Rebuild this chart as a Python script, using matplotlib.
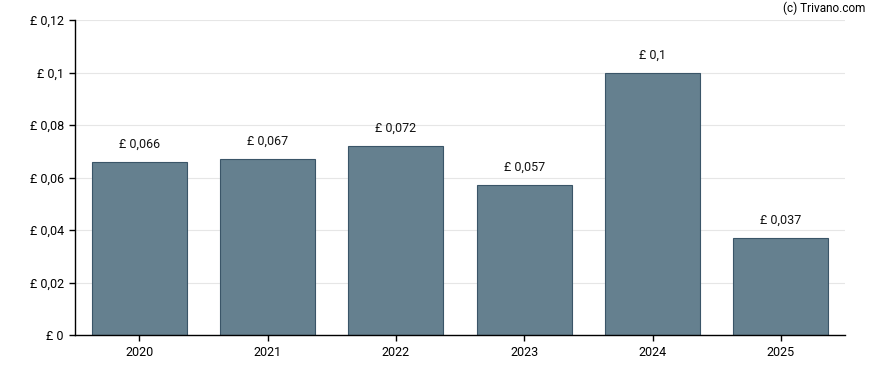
import matplotlib
matplotlib.use("Agg")
import matplotlib.pyplot as plt

years = ["2020", "2021", "2022", "2023", "2024", "2025"]
values = [0.066, 0.067, 0.072, 0.057, 0.1, 0.037]
labels = ["£ 0,066", "£ 0,067", "£ 0,072", "£ 0,057", "£ 0,1", "£ 0,037"]
yticks = [0, 0.02, 0.04, 0.06, 0.08, 0.1, 0.12]
ytick_labels = ["£ 0", "£ 0,02", "£ 0,04", "£ 0,06", "£ 0,08", "£ 0,1", "£ 0,12"]

plt.rcParams["font.family"] = ["Roboto", "DejaVu Sans"]

fig = plt.figure(figsize=(8.88, 3.7), dpi=100)
ax = fig.add_axes([75 / 888, 35 / 370, 770 / 888, 315 / 370])

x = list(range(len(years)))
ax.bar(x, values, width=0.74, color="#65808f", edgecolor="#3a5568", linewidth=0.8, zorder=2)

for xi, v, lab in zip(x, values, labels):
    ax.annotate(lab, (xi, v), xytext=(0, 8), textcoords="offset points",
                ha="center", va="bottom", fontsize=9, color="#111111")

ax.set_xlim(-0.5, 5.5)
ax.set_ylim(0, 0.12)
ax.set_xticks(x)
ax.set_xticklabels(years, fontsize=9)
ax.set_yticks(yticks)
ax.set_yticklabels(ytick_labels, fontsize=9)
ax.grid(axis="y", color="#e6e6e6", linewidth=0.8, zorder=0)
ax.tick_params(axis="both", length=4, width=1, color="black", pad=4)

for side in ["top", "right"]:
    ax.spines[side].set_visible(False)
ax.spines["left"].set_linewidth(1)
ax.spines["bottom"].set_linewidth(1)

fig.text(865 / 888, 1 - 8 / 370, "(c) Trivano.com", ha="right", va="center", fontsize=8.5)

fig.savefig("out.png", dpi=100)
